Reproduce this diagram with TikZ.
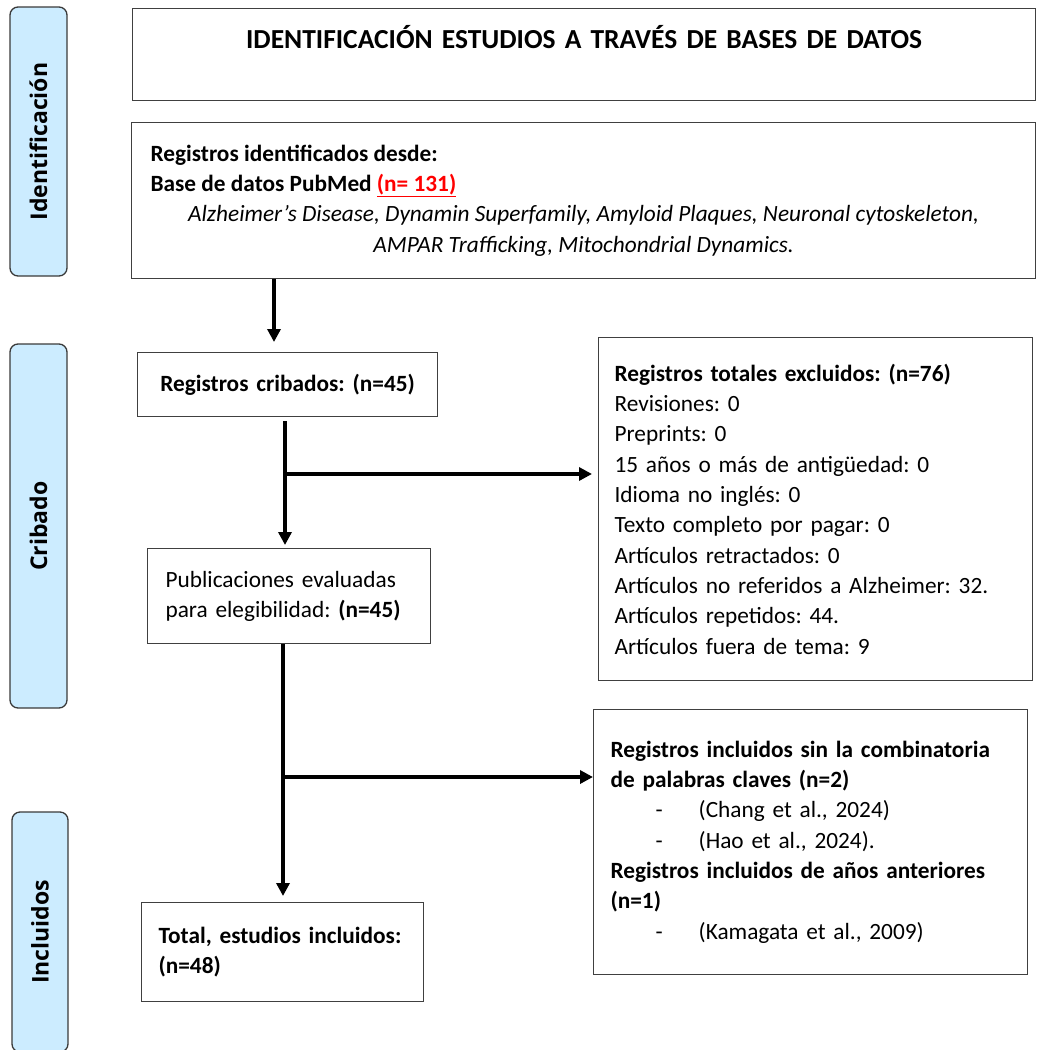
\documentclass[tikz,border=0pt]{standalone}
\usepackage{fontspec}
\setmainfont{Carlito}
\newfontfamily\sidefont{Open Sans}
\usetikzlibrary{arrows.meta,calc}
\definecolor{sidefill}{HTML}{CCECFF}
\definecolor{sideline}{HTML}{3A3A3A}
\definecolor{boxline}{HTML}{404040}
\definecolor{redn}{HTML}{FF0000}
\newcommand{\bodysize}{\fontsize{23.3}{30.3}\selectfont}
\begin{document}
\frenchspacing
\begin{tikzpicture}[x=1pt,y=-1pt,
  sidebar/.style={draw=sideline, fill=sidefill, line width=1.3pt, rounded corners=8pt,
    rotate=90, inner sep=0pt, font=\sidefont\bfseries\fontsize{23}{27}\selectfont},
  fbox/.style={draw=boxline, line width=1.2pt, anchor=north west, inner ysep=0pt,
    align=left, font=\bodysize},
  arr/.style={line width=3.8pt, -{Triangle[length=13pt,width=13pt]}}]
\useasboundingbox (0,0) rectangle (1037,1050);

% side bars
\node[sidebar, minimum width=269, minimum height=57] (side1) at (38.5,141.5) {Identificación};
\node[sidebar, minimum width=364, minimum height=57] (side2) at (38.5,526) {Cribado};
\node[sidebar, minimum width=240, minimum height=56] (side3) at (40,932) {Incluidos};

% boxes
\node[fbox, align=center, text width=903, inner xsep=0pt, text height=40, text depth=52,
  font=\bfseries\fontsize{27.5}{32}\selectfont] (title) at (132,8)
  {IDENTIFICACIÓN ESTUDIOS A TRAVÉS DE BASES DE DATOS};

\node[fbox, align=none, text width=866, inner xsep=19pt, minimum height=156] (ident) at (131,122)
  {\raggedright\textbf{Registros identificados desde:}\\
   \textbf{Base de datos PubMed \textcolor{redn}{\underline{(n= 131)}}}\par
   \centering\itshape Alzheimer’s Disease, Dynamin Superfamily, Amyloid Plaques, Neuronal cytoskeleton,\\
   AMPAR Trafficking, Mitochondrial Dynamics.\par};

\node[fbox, align=center, text width=300, inner xsep=0pt, minimum height=64] (crib) at (137,352)
  {\textbf{Registros cribados: (n=45)}};

\node[fbox, text width=402, inner xsep=16pt, minimum height=343] (excl) at (598,337)
  {\textbf{Registros totales excluidos: (n=76)}\\
   Revisiones: 0\\
   Preprints: 0\\
   15 años o más de antigüedad: 0\\
   Idioma no inglés: 0\\
   Texto completo por pagar: 0\\
   Artículos retractados: 0\\
   Artículos no referidos a Alzheimer: 32.\\
   Artículos repetidos: 44.\\
   Artículos fuera de tema: 9};

\node[fbox, text width=247, inner xsep=18pt, minimum height=95] (pub) at (147,548)
  {\mbox{Publicaciones evaluadas}\\
   \mbox{para elegibilidad: \textbf{(n=45)}}};

\node[fbox, text width=400, inner xsep=17pt, minimum height=265] (incl) at (593,709)
  {\mbox{\textbf{Registros incluidos sin la combinatoria}}\\
   \textbf{de palabras claves (n=2)}\\
   \hspace*{45pt}-\hspace{36pt}(Chang et al., 2024)\\
   \hspace*{45pt}-\hspace{36pt}(Hao et al., 2024).\\
   \mbox{\textbf{Registros incluidos de años anteriores}}\\
   \textbf{(n=1)}\\
   \hspace*{45pt}-\hspace{36pt}(Kamagata et al., 2009)\\[4pt]};

\node[fbox, text width=248, inner xsep=17pt, minimum height=99] (total) at (141,902)
  {\mbox{\textbf{Total, estudios incluidos:}}\\
   \textbf{(n=48)}};

% connectors
\coordinate (a1) at (274,0);
\coordinate (b1) at (285,474);
\coordinate (b2) at (283,777);
\draw[arr] (ident.south -| a1) -- ($(crib.north -| a1)+(0,-10)$);
\draw[arr] ($(crib.south -| b1)+(0,4)$) -- ($(pub.north -| b1)+(0,-3)$);
\draw[arr] (b1) -- ($(excl.west |- b1)+(-6,0)$);
\draw[arr] (pub.south -| b2) -- ($(total.north -| b2)+(0,-6)$);
\draw[arr] (b2) -- (incl.west |- b2);
\end{tikzpicture}
\end{document}
